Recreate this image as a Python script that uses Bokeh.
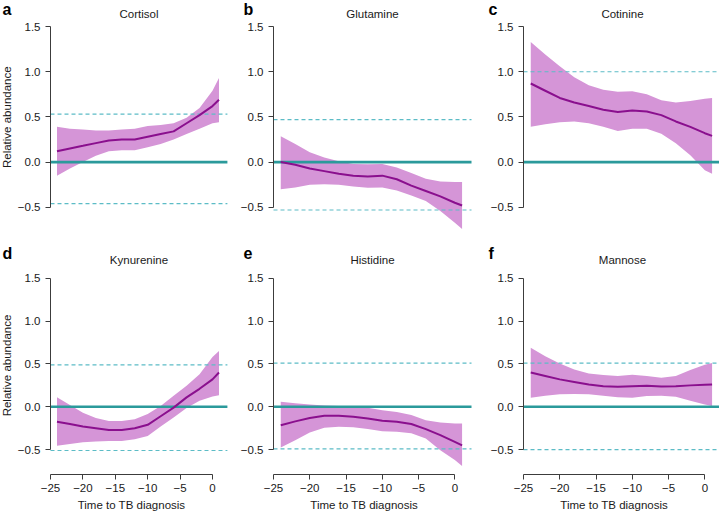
import math
from bokeh.plotting import figure
from bokeh.models import Label, FixedTicker, CustomJSTickFormatter, Range1d, LinearAxis
from bokeh.layouts import row, column
from bokeh.embed import file_html
from bokeh.resources import INLINE

# ---------------- data ----------------
x = [-24, -22, -20, -18, -16, -14, -12, -10, -8, -6, -4, -2, 0, 1]

names = ["Cortisol", "Glutamine", "Cotinine", "Kynurenine", "Histidine", "Mannose"]
letters = ["a", "b", "c", "d", "e", "f"]

cortisol_mean = [0.12, 0.15, 0.18, 0.21, 0.24, 0.25, 0.25, 0.28, 0.31, 0.34, 0.43, 0.52, 0.62, 0.69]
cortisol_upper = [0.39, 0.37, 0.36, 0.35, 0.35, 0.36, 0.37, 0.40, 0.41, 0.43, 0.49, 0.60, 0.79, 0.93]
cortisol_lower = [-0.15, -0.07, 0.00, 0.07, 0.12, 0.13, 0.13, 0.165, 0.20, 0.25, 0.31, 0.37, 0.43, 0.44]

glutamine_mean = [0.00, -0.03, -0.07, -0.10, -0.13, -0.15, -0.16, -0.15, -0.19, -0.26, -0.32, -0.38, -0.45, -0.48]
glutamine_upper = [0.285, 0.20, 0.11, 0.05, 0.01, -0.02, -0.025, -0.02, -0.06, -0.12, -0.185, -0.215, -0.22, -0.22]
glutamine_lower = [-0.30, -0.28, -0.25, -0.245, -0.25, -0.27, -0.285, -0.28, -0.315, -0.37, -0.43, -0.54, -0.67, -0.74]

cotinine_mean = [0.87, 0.79, 0.71, 0.66, 0.62, 0.58, 0.555, 0.57, 0.56, 0.52, 0.45, 0.39, 0.32, 0.29]
cotinine_upper = [1.33, 1.19, 1.06, 0.94, 0.85, 0.80, 0.78, 0.785, 0.75, 0.685, 0.66, 0.675, 0.70, 0.71]
cotinine_lower = [0.39, 0.42, 0.44, 0.45, 0.43, 0.39, 0.345, 0.37, 0.37, 0.315, 0.21, 0.075, -0.09, -0.13]

kynurenine_mean = [-0.175, -0.20, -0.23, -0.25, -0.27, -0.27, -0.25, -0.21, -0.11, -0.01, 0.11, 0.21, 0.32, 0.40]
kynurenine_upper = [0.11, 0.02, -0.07, -0.13, -0.165, -0.165, -0.145, -0.085, 0.01, 0.13, 0.245, 0.38, 0.58, 0.65]
kynurenine_lower = [-0.455, -0.435, -0.415, -0.405, -0.40, -0.40, -0.38, -0.34, -0.23, -0.125, -0.015, 0.07, 0.12, 0.135]

histidine_mean = [-0.215, -0.17, -0.13, -0.105, -0.105, -0.117, -0.136, -0.163, -0.175, -0.20, -0.26, -0.33, -0.41, -0.45]
histidine_upper = [0.06, 0.04, 0.027, 0.016, 0.008, 0.0, -0.012, -0.04, -0.062, -0.097, -0.156, -0.183, -0.195, -0.195]
histidine_lower = [-0.475, -0.39, -0.30, -0.245, -0.233, -0.24, -0.26, -0.284, -0.29, -0.31, -0.37, -0.506, -0.62, -0.69]

mannose_mean = [0.40, 0.36, 0.32, 0.29, 0.26, 0.24, 0.235, 0.24, 0.245, 0.237, 0.24, 0.25, 0.257, 0.26]
mannose_upper = [0.69, 0.59, 0.505, 0.435, 0.39, 0.37, 0.36, 0.375, 0.36, 0.34, 0.36, 0.43, 0.49, 0.51]
mannose_lower = [0.105, 0.13, 0.145, 0.148, 0.145, 0.13, 0.11, 0.105, 0.125, 0.13, 0.117, 0.07, 0.027, 0.01]

means = [cortisol_mean, glutamine_mean, cotinine_mean, kynurenine_mean, histidine_mean, mannose_mean]
uppers = [cortisol_upper, glutamine_upper, cotinine_upper, kynurenine_upper, histidine_upper, mannose_upper]
lowers = [cortisol_lower, glutamine_lower, cotinine_lower, kynurenine_lower, histidine_lower, mannose_lower]

threshold_upper = [0.53, 0.47, 1.0, 0.49, 0.51, 0.51]
threshold_lower = [-0.46, -0.53, None, -0.51, -0.49, -0.50]

y_ticks = [-0.5, 0.0, 0.5, 1.0, 1.5]
x_ticks = [-25, -20, -15, -10, -5, 0]

# ---------------- style / layout ----------------
FONT = "Liberation Sans"
TXT = "#1a1a1a"
AXIS = "#3c3c3c"
BAND = "#d595d7"
LINE = "#8a0f8e"
ZERO = "#2b9a9b"
DASH = "#5cbcc6"

# plot region (R "usr") limits
REG_X0, REG_X1 = -25.0, 2.3
REG_Y0 = -0.79

# pixel geometry (page px); text y positions given as requested label anchors
ROWS = [dict(top=0, bottom=240, zero=161.6, ky=90.34, title_y=13.0, letter_y=8.5, ylab=116.7),
        dict(top=240, bottom=512, zero=406.3, ky=85.7, title_y=259.0, letter_y=252.5, ylab=365.0)]
COLS = [dict(left=0, right=236, axis=50.0, kx=6.48, letter_x=2),
        dict(left=236, right=480, axis=273.0, kx=7.253, letter_x=243),
        dict(left=480, right=719, axis=523.0, kx=7.253, letter_x=488)]
XLAB_Y = 504.5

yfmt = "return (tick < 0 ? '\u2212' : '') + Math.abs(tick).toFixed(1);"
xfmt = "return (tick < 0 ? '\u2212' : '') + Math.abs(tick);"


def style_axis(ax):
    ax.minor_tick_line_color = None
    ax.major_tick_out = 5
    ax.major_tick_in = 0
    ax.axis_line_color = AXIS
    ax.major_tick_line_color = AXIS
    ax.major_label_text_font = FONT
    ax.major_label_text_font_size = "11.5px"
    ax.major_label_text_color = TXT


def make(i):
    r, c = divmod(i, 3)
    R, C = ROWS[r], COLS[c]

    def dx(px):
        return REG_X0 + (px - C["axis"]) / C["kx"]

    def dy(py):
        return (R["zero"] - py) / R["ky"]

    p = figure(width=C["right"] - C["left"], height=R["bottom"] - R["top"],
               x_range=Range1d(dx(C["left"]), dx(C["right"])),
               y_range=Range1d(dy(R["bottom"]), dy(R["top"])),
               output_backend="svg", toolbar_location=None,
               x_axis_location=None, y_axis_location=None,
               min_border=0)
    p.outline_line_color = None
    p.grid.visible = False
    p.background_fill_color = "white"
    p.border_fill_color = "white"

    p.varea(x=x, y1=lowers[i], y2=uppers[i], fill_color=BAND, fill_alpha=1.0)

    lv = [v for v in (threshold_upper[i], threshold_lower[i]) if v is not None]
    p.segment(x0=[REG_X0] * len(lv), x1=[REG_X1] * len(lv), y0=lv, y1=lv,
              line_color=DASH, line_width=1.2, line_dash="4 3")
    p.segment(x0=[REG_X0], x1=[REG_X1], y0=[0.0], y1=[0.0], line_color=ZERO, line_width=2.6)
    p.line(x=x, y=means[i], line_color=LINE, line_width=2)

    ya = LinearAxis(fixed_location=REG_X0, bounds=(-0.5, 1.5),
                    ticker=FixedTicker(ticks=y_ticks),
                    formatter=CustomJSTickFormatter(code=yfmt), major_label_standoff=5)
    style_axis(ya)
    p.add_layout(ya, "left")

    if r == 1:
        xa = LinearAxis(fixed_location=REG_Y0, bounds=(-25, 0),
                        ticker=FixedTicker(ticks=x_ticks),
                        formatter=CustomJSTickFormatter(code=xfmt), major_label_standoff=4)
        style_axis(xa)
        p.add_layout(xa, "below")
        p.add_layout(Label(x=-12.5, y=dy(XLAB_Y), text="Time to TB diagnosis",
                           text_align="center", text_baseline="alphabetic",
                           text_font=FONT, text_font_size="11.5px", text_color=TXT))

    if c == 0:
        p.add_layout(Label(x=dx(6.5), y=dy(R["ylab"]), text="Relative abundance", angle=math.pi / 2,
                           text_align="center", text_baseline="middle",
                           text_font=FONT, text_font_size="11.5px", text_color=TXT))

    p.add_layout(Label(x=-11.35, y=dy(R["title_y"]), text=names[i],
                       text_align="center", text_baseline="alphabetic",
                       text_font=FONT, text_font_size="11.5px", text_color=TXT))
    p.add_layout(Label(x=dx(C["letter_x"]), y=dy(R["letter_y"]), text=letters[i],
                       text_align="left", text_baseline="alphabetic",
                       text_font=FONT, text_font_size="16px", text_font_style="bold",
                       text_color="#000000"))
    return p


figs = [make(i) for i in range(6)]
layout = column(row(*figs[:3]), row(*figs[3:]))

open("out.html", "w").write(file_html(layout, INLINE))
